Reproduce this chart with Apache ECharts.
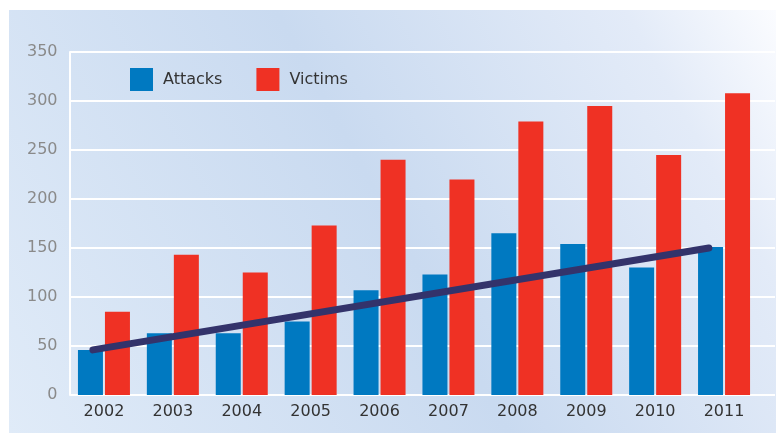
<!DOCTYPE html>
<html>
<head>
<meta charset="utf-8">
<script src="https://cdn.jsdelivr.net/npm/echarts@6/dist/echarts.min.js"></script>
<style>html,body{margin:0;padding:0;background:#fff;}#c{width:776px;height:435px;}</style>
</head>
<body>
<div id="c"></div>
<script>
const years = ['2002','2003','2004','2005','2006','2007','2008','2009','2010','2011'];
const attacks = [46, 63, 63, 75, 107, 123, 165, 154, 130, 151];
const victims = [85, 143, 125, 173, 240, 220, 279, 295, 245, 308];
const trend = [[0.34, 46], [9.28, 150]];
const yTicks = [0, 50, 100, 150, 200, 250, 300, 350];

const chart = echarts.init(document.getElementById('c'));
const font = '"DejaVu Sans", "Open Sans", sans-serif';
chart.setOption({
  animation: false,
  graphic: [{
    type: 'rect', z: -10, silent: true,
    shape: { x: 9, y: 10, width: 767, height: 423 },
    style: {
      fill: new echarts.graphic.LinearGradient(0, 1, 1, 0, [
        { offset: 0, color: '#e0ebf8' },
        { offset: 0.5, color: '#c9daf0' },
        { offset: 0.85, color: '#e3ebf8' },
        { offset: 1, color: '#fbfcff' }
      ])
    }
  }],
  legend: {
    left: 130, top: 68, padding: 0,
    itemWidth: 23, itemHeight: 23, itemGap: 34,
    icon: 'rect',
    textStyle: { fontFamily: font, fontSize: 16, color: '#333', padding: [0, 0, 0, 5] },
    data: ['Attacks', 'Victims']
  },
  grid: [
    { left: 69.5, right: 17.5, top: 52, bottom: 40 },
    { left: 70, right: 1, top: 52, bottom: 40 }
  ],
  xAxis: [
    { type: 'category', gridIndex: 0, data: years,
      axisLine: { show: false }, axisTick: { show: false },
      axisLabel: { fontFamily: font, fontSize: 16, color: '#333', margin: 9 } },
    { type: 'value', gridIndex: 0, min: 0, max: 10, show: false },
    { type: 'category', gridIndex: 1, data: years, show: false }
  ],
  yAxis: [
    { type: 'value', gridIndex: 0, min: 0, max: 350, interval: 50,
      axisLine: { show: false }, axisTick: { show: false }, splitLine: { show: false },
      axisLabel: { fontFamily: font, fontSize: 16, color: '#8a8a8a', margin: 12,
        formatter: v => yTicks.includes(v) ? String(v) : '' } },
    { type: 'value', gridIndex: 1, min: 0, max: 350, interval: 50,
      axisLine: { show: true, lineStyle: { color: '#ffffff', width: 2 } },
      axisTick: { show: false }, axisLabel: { show: false },
      splitLine: { show: true, lineStyle: { color: '#ffffff', width: 2 } } }
  ],
  series: [
    { name: 'Attacks', type: 'bar', xAxisIndex: 0, yAxisIndex: 0, data: attacks,
      barWidth: 25, barGap: '8%', itemStyle: { color: '#0079c1' } },
    { name: 'Victims', type: 'bar', xAxisIndex: 0, yAxisIndex: 0, data: victims,
      barWidth: 25, barGap: '8%', itemStyle: { color: '#ef3124' } },
    { name: 'Trend', type: 'line', xAxisIndex: 1, yAxisIndex: 0, data: trend,
      symbol: 'none', z: 5,
      lineStyle: { color: '#33336b', width: 7, cap: 'round' } }
  ]
});
</script>
</body>
</html>
